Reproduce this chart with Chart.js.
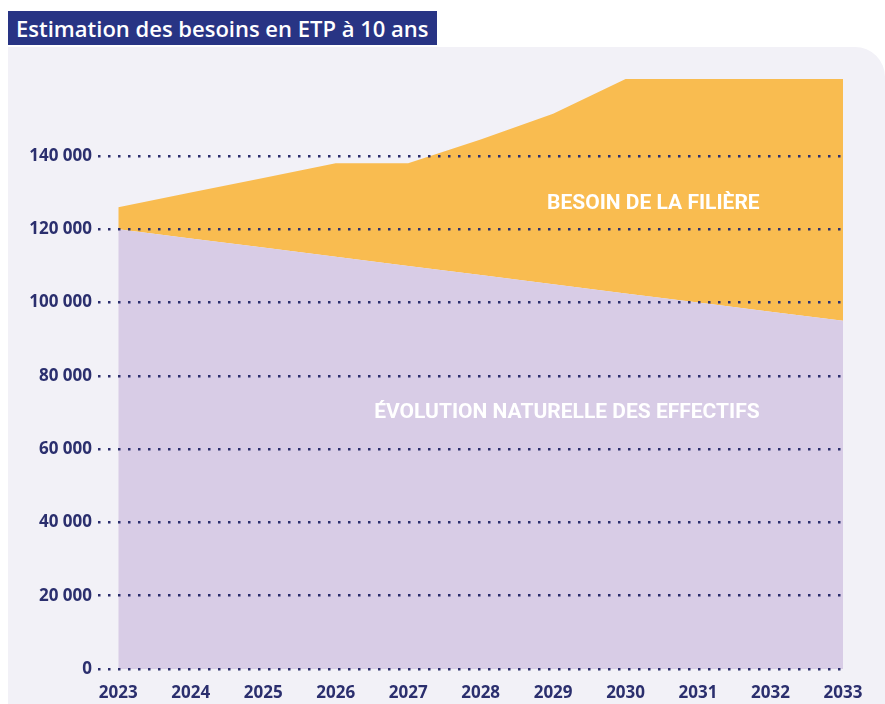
<!DOCTYPE html>
<html lang="fr">
<head>
<meta charset="utf-8">
<title>Estimation des besoins en ETP à 10 ans</title>
<script src="https://cdn.jsdelivr.net/npm/chart.js@4"></script>
<style>
    html, body { margin: 0; padding: 0; background: #ffffff; }
    #wrap { position: relative; width: 885px; height: 704px; overflow: hidden; }
    #panel {
        position: absolute; left: 8px; top: 47px; right: 0; bottom: 0;
        background: #f2f1f7; border-top-right-radius: 30px;
    }
    #title {
        position: absolute; left: 8px; top: 11px; width: 429px; height: 34px;
        background: #283484; color: #ffffff;
        font-family: "Open Sans", sans-serif; font-weight: 600; font-size: 22px;
        line-height: 34px; padding-left: 8px; box-sizing: border-box; white-space: nowrap;
    }
    #chart { position: absolute; left: 0; top: 0; }
</style>
</head>
<body>
<div id="wrap">
    <div id="panel"></div>
    <div id="title">Estimation des besoins en ETP à 10 ans</div>
    <canvas id="chart" width="885" height="704"></canvas>
</div>
<script>
    const years = [2023, 2024, 2025, 2026, 2027, 2028, 2029, 2030, 2031, 2032, 2033];
    // évolution naturelle des effectifs
    const naturalValues = [120000, 117500, 115000, 112500, 110000, 107500, 105000, 102500, 100000, 97500, 95000];
    // besoin total de la filière (haut de la zone orange)
    const needTotal = [126000, 130000, 134000, 138000, 138000, 144500, 151500, 161000, 161000, 161000, 161000];
    const yTicks = [0, 20000, 40000, 60000, 80000, 100000, 120000, 140000];

    const navy = '#2b2f6e';
    const tickFont = { family: 'Open Sans', weight: 'bold', size: 17 };

    function formatNumber(v) {
        return String(v).replace(/\B(?=(\d{3})+(?!\d))/g, ' ');
    }

    const areaLabels = {
        id: 'areaLabels',
        afterDatasetsDraw(chart) {
            const ctx = chart.ctx;
            const x = chart.scales.x;
            const y = chart.scales.y;
            ctx.save();
            ctx.fillStyle = '#ffffff';
            ctx.font = 'bold 21px Roboto';
            ctx.textAlign = 'right';
            ctx.textBaseline = 'middle';
            ctx.fillText('BESOIN DE LA FILIÈRE', x.getPixelForValue(2031.85), y.getPixelForValue(127000));
            ctx.fillText('ÉVOLUTION NATURELLE DES EFFECTIFS', x.getPixelForValue(2031.85), y.getPixelForValue(70000));
            ctx.restore();
        }
    };

    const ctx = document.getElementById('chart').getContext('2d');
    new Chart(ctx, {
        type: 'line',
        data: {
            datasets: [{
                label: 'Évolution naturelle des effectifs',
                data: years.map((yr, i) => ({ x: yr, y: naturalValues[i] })),
                backgroundColor: '#d8cce6',
                borderWidth: 0,
                pointRadius: 0,
                fill: 'origin'
            }, {
                label: 'Besoin de la filière',
                data: years.map((yr, i) => ({ x: yr, y: needTotal[i] })),
                backgroundColor: '#f9bc50',
                borderWidth: 0,
                pointRadius: 0,
                fill: '-1'
            }]
        },
        options: {
            responsive: false,
            animation: false,
            layout: { padding: { left: 0, right: 42, top: 79, bottom: 0 } },
            plugins: {
                legend: { display: false },
                tooltip: { enabled: false }
            },
            scales: {
                x: {
                    type: 'linear',
                    min: 2022.72,
                    max: 2033,
                    afterBuildTicks: scale => { scale.ticks = years.map(v => ({ value: v })); },
                    afterFit: scale => { scale.height = 35; },
                    grid: { display: false },
                    border: { display: false },
                    ticks: {
                        color: navy,
                        font: tickFont,
                        padding: 6,
                        maxRotation: 0,
                        autoSkip: false,
                        callback: v => String(v)
                    }
                },
                y: {
                    min: 0,
                    max: 161000,
                    afterBuildTicks: scale => { scale.ticks = yTicks.map(v => ({ value: v })); },
                    afterFit: scale => { scale.width = 98; },
                    grid: {
                        color: navy,
                        lineWidth: 2.5,
                        drawTicks: false,
                        z: 1
                    },
                    border: { display: false, dash: [2.5, 7.5] },
                    ticks: {
                        color: navy,
                        font: tickFont,
                        padding: 6,
                        callback: v => formatNumber(v)
                    }
                }
            }
        },
        plugins: [areaLabels]
    });
</script>
</body>
</html>
